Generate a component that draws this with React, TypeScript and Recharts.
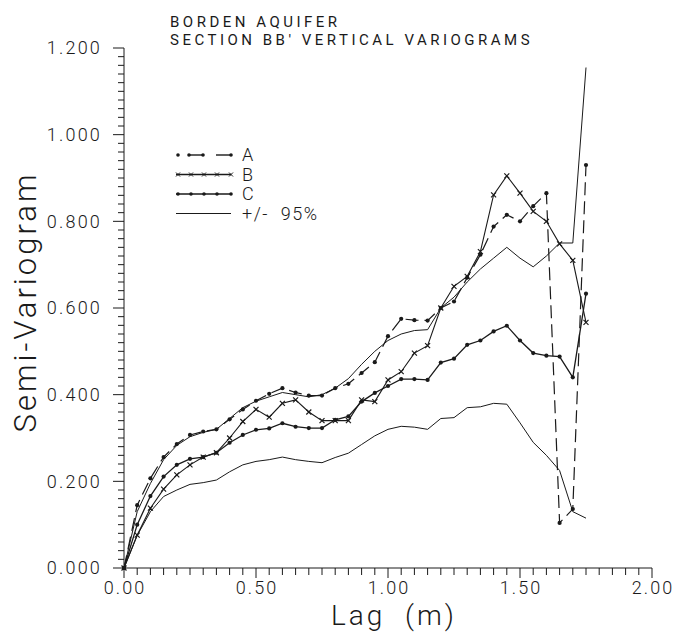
import { LineChart, Line, XAxis, YAxis, Legend } from "recharts";

// lag (m) and semi-variogram values
const lags = [
  0, 0.05, 0.1, 0.15, 0.2, 0.25, 0.3, 0.35, 0.4, 0.45, 0.5, 0.55, 0.6, 0.65,
  0.7, 0.75, 0.8, 0.85, 0.9, 0.95, 1.0, 1.05, 1.1, 1.15, 1.2, 1.25, 1.3, 1.35,
  1.4, 1.45, 1.5, 1.55, 1.6, 1.65, 1.7, 1.75,
];

const seriesA = [
  0, 0.145, 0.207, 0.256, 0.286, 0.307, 0.315, 0.32, 0.343, 0.366, 0.386,
  0.402, 0.415, 0.405, 0.398, 0.398, 0.415, 0.425, 0.45, 0.475, 0.535, 0.575,
  0.572, 0.571, 0.6, 0.615, 0.67, 0.723, 0.788, 0.815, 0.8, 0.835, 0.865,
  0.104, 0.136, 0.93,
];

const seriesB = [
  0, 0.076, 0.138, 0.182, 0.215, 0.238, 0.256, 0.266, 0.3, 0.338, 0.366,
  0.348, 0.38, 0.388, 0.36, 0.34, 0.34, 0.34, 0.388, 0.384, 0.434, 0.453,
  0.496, 0.513, 0.6, 0.65, 0.673, 0.73, 0.861, 0.905, 0.865, 0.823, 0.8,
  0.748, 0.71, 0.567,
];

const seriesC = [
  0, 0.1, 0.166, 0.211, 0.238, 0.252, 0.256, 0.266, 0.289, 0.307, 0.319,
  0.322, 0.334, 0.326, 0.323, 0.323, 0.342, 0.35, 0.384, 0.404, 0.42, 0.436,
  0.436, 0.434, 0.474, 0.483, 0.515, 0.525, 0.546, 0.559, 0.525, 0.496, 0.49,
  0.488, 0.44, 0.633,
];

const upper95 = [
  0, 0.13, 0.195, 0.25, 0.283, 0.303, 0.313, 0.32, 0.345, 0.37, 0.385, 0.395,
  0.405, 0.4, 0.395, 0.4, 0.415, 0.437, 0.47, 0.5, 0.525, 0.54, 0.548, 0.55,
  0.6, 0.625, 0.66, 0.69, 0.715, 0.74, 0.715, 0.695, 0.72, 0.75, 0.75, 1.155,
];

const lower95 = [
  0, 0.075, 0.13, 0.165, 0.18, 0.193, 0.197, 0.203, 0.222, 0.238, 0.246, 0.25,
  0.256, 0.25, 0.246, 0.243, 0.255, 0.265, 0.285, 0.305, 0.32, 0.327, 0.325,
  0.32, 0.345, 0.347, 0.37, 0.372, 0.38, 0.378, 0.335, 0.29, 0.26, 0.225,
  0.13, 0.115,
];

const xLabels = [0, 0.5, 1.0, 1.5, 2.0];
const yLabels = [0, 0.2, 0.4, 0.6, 0.8, 1.0, 1.2];

// minor ticks: every 0.05 on x, every 0.02 on y
const xTicks = Array.from({ length: 41 }, (_, i) => +(i * 0.05).toFixed(2));
const yTicks = Array.from({ length: 61 }, (_, i) => +(i * 0.02).toFixed(2));

const data = lags.map((lag, i) => ({
  lag,
  a: seriesA[i],
  b: seriesB[i],
  c: seriesC[i],
  upper: upper95[i],
  lower: lower95[i],
}));

const INK = "#1a1a1a";
const FONT = "Roboto, 'Liberation Sans', sans-serif";

const isLabel = (v: number, list: number[]) =>
  list.some((l) => Math.abs(l - v) < 1e-6);

const XTick = (props: any) => {
  const { x, y, payload } = props;
  const major = isLabel(payload.value, xLabels);
  return (
    <g>
      <line x1={x} y1={y} x2={x} y2={y + (major ? 10 : 7)} stroke={INK} />
      {major && (
        <text
          x={x + 1}
          y={y + 26}
          textAnchor="middle"
          fill={INK}
          fontSize={18}
          fontWeight={300}
          letterSpacing={2}
          fontFamily={FONT}
        >
          {payload.value.toFixed(2)}
        </text>
      )}
    </g>
  );
};

const YTick = (props: any) => {
  const { x, y, payload } = props;
  const major = isLabel(payload.value, yLabels);
  return (
    <g>
      <line x1={x} y1={y} x2={x - (major ? 11 : 6)} y2={y} stroke={INK} />
      {major && (
        <text
          x={x - 22}
          y={y}
          dy="0.36em"
          textAnchor="end"
          fill={INK}
          fontSize={18}
          fontWeight={300}
          letterSpacing={2.2}
          fontFamily={FONT}
        >
          {payload.value.toFixed(3)}
        </text>
      )}
    </g>
  );
};

const dotMark = (r: number, name: string) => (p: any) => (
  <circle key={`${name}-${p.index}`} cx={p.cx} cy={p.cy} r={r} fill={INK} />
);

const crossMark = (p: any) => (
  <path
    key={`b-${p.index}`}
    d={`M${p.cx - 2.5},${p.cy - 2.5}L${p.cx + 2.5},${p.cy + 2.5}M${p.cx - 2.5},${p.cy + 2.5}L${p.cx + 2.5},${p.cy - 2.5}`}
    stroke={INK}
    strokeWidth={1.2}
  />
);

const legendRows = [
  { label: "A", kind: "a" },
  { label: "B", kind: "b" },
  { label: "C", kind: "c" },
  { label: "+/-  95%", kind: "ci" },
];

const renderLegend = () => (
  <svg width={170} height={80} style={{ overflow: "visible", display: "block" }}>
    {legendRows.map((row, i) => {
      const y = 8 + i * 19.5;
      const xs = [2, 15, 28, 41, 55];
      return (
        <g key={row.label}>
          {row.kind === "a" && (
            <g>
              <circle cx={2} cy={y} r={1.8} fill={INK} />
              <line x1={13} y1={y} x2={27} y2={y} stroke={INK} strokeWidth={1.4} />
              <circle cx={13} cy={y} r={1.8} fill={INK} />
              <circle cx={27} cy={y} r={1.8} fill={INK} />
              <line x1={40} y1={y} x2={55} y2={y} stroke={INK} strokeWidth={1.4} />
              <circle cx={55} cy={y} r={1.8} fill={INK} />
            </g>
          )}
          {row.kind === "b" && (
            <g>
              <line x1={0} y1={y} x2={55} y2={y} stroke={INK} strokeWidth={1.3} />
              {xs.map((x) => (
                <path
                  key={x}
                  d={`M${x - 2},${y - 2}L${x + 2},${y + 2}M${x - 2},${y + 2}L${x + 2},${y - 2}`}
                  stroke={INK}
                />
              ))}
            </g>
          )}
          {row.kind === "c" && (
            <g>
              <line x1={0} y1={y} x2={55} y2={y} stroke={INK} strokeWidth={1.3} />
              {xs.map((x) => (
                <circle key={x} cx={x} cy={y} r={1.8} fill={INK} />
              ))}
            </g>
          )}
          {row.kind === "ci" && (
            <line x1={0} y1={y} x2={55} y2={y} stroke={INK} strokeWidth={1.1} />
          )}
          <text
            x={66}
            y={y}
            dy="0.36em"
            fill={INK}
            fontSize={18}
            fontWeight={300}
            letterSpacing={1.5}
            fontFamily={FONT}
            style={{ whiteSpace: "pre" }}
          >
            {row.label}
          </text>
        </g>
      );
    })}
  </svg>
);

export default function App() {
  return (
    <div
      style={{
        position: "absolute",
        left: 0,
        top: 0,
        width: 681,
        height: 632,
        background: "#fff",
      }}
    >
      <LineChart
        width={681}
        height={632}
        data={data}
        margin={{ top: 48, right: 29, left: 24, bottom: 34 }}
      >
        <XAxis
          dataKey="lag"
          type="number"
          domain={[0, 2]}
          ticks={xTicks}
          interval={0}
          tickSize={0}
          tickMargin={0}
          tick={XTick}
          axisLine={{ stroke: INK }}
          height={30}
        />
        <YAxis
          type="number"
          domain={[0, 1.2]}
          ticks={yTicks}
          interval={0}
          tickSize={0}
          tickMargin={0}
          tick={YTick}
          axisLine={{ stroke: INK }}
          width={100}
        />
        <Legend
          layout="vertical"
          align="center"
          verticalAlign="middle"
          content={renderLegend}
          wrapperStyle={{ left: 176, top: 147, width: 170, height: 80 }}
        />
        <Line
          dataKey="upper"
          type="linear"
          stroke={INK}
          strokeWidth={1}
          dot={false}
          isAnimationActive={false}
        />
        <Line
          dataKey="lower"
          type="linear"
          stroke={INK}
          strokeWidth={1}
          dot={false}
          isAnimationActive={false}
        />
        <Line
          dataKey="c"
          type="linear"
          stroke={INK}
          strokeWidth={1.3}
          dot={dotMark(2.1, "c")}
          isAnimationActive={false}
        />
        <Line
          dataKey="b"
          type="linear"
          stroke={INK}
          strokeWidth={1.1}
          dot={crossMark}
          isAnimationActive={false}
        />
        <Line
          dataKey="a"
          type="linear"
          stroke={INK}
          strokeWidth={1.2}
          strokeDasharray="13 6"
          dot={dotMark(2.1, "a")}
          isAnimationActive={false}
        />
      </LineChart>
      <svg
        width={681}
        height={632}
        style={{ position: "absolute", left: 0, top: 0, pointerEvents: "none" }}
      >
        <text
          x={170}
          y={27}
          fill={INK}
          fontSize={15}
          letterSpacing={3.5}
          fontFamily={FONT}
        >
          BORDEN AQUIFER
        </text>
        <text
          x={170}
          y={45}
          fill={INK}
          fontSize={15}
          letterSpacing={3.5}
          fontFamily={FONT}
        >
          SECTION BB' VERTICAL VARIOGRAMS
        </text>
        <text
          transform="translate(36,302) rotate(-90)"
          textAnchor="middle"
          fill={INK}
          fontSize={31}
          fontWeight={300}
          letterSpacing={3}
          fontFamily={FONT}
        >
          Semi-Variogram
        </text>
        <text
          x={394}
          y={625}
          textAnchor="middle"
          fill={INK}
          fontSize={28}
          fontWeight={300}
          letterSpacing={3}
          fontFamily={FONT}
          style={{ whiteSpace: "pre" }}
        >
          {"Lag  (m)"}
        </text>
      </svg>
    </div>
  );
}
